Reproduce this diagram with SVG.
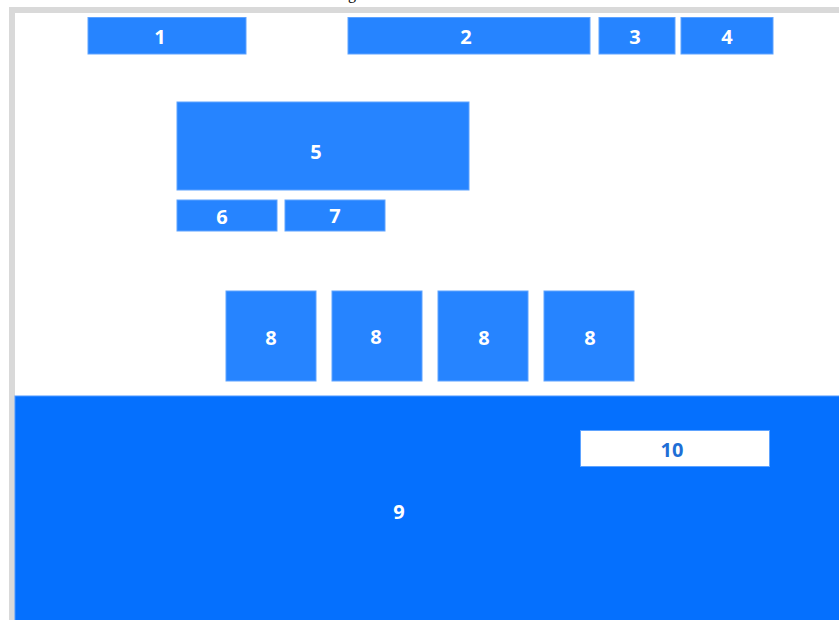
<svg xmlns="http://www.w3.org/2000/svg" width="839" height="620" viewBox="0 0 839 620">
<style>
.b{fill:#2684ff;stroke:#5ea3ff;stroke-width:1}
.t{font-family:"Open Sans","Noto Sans",sans-serif;font-weight:700;font-size:20px;fill:#ffffff;text-anchor:middle;dominant-baseline:central}
</style>
<rect x="0" y="0" width="839" height="620" fill="#ffffff"/>
<text x="348" y="-1" font-family="Liberation Serif,serif" font-size="16" fill="#000">g</text>
<rect x="12" y="10" width="840" height="620" fill="none" stroke="#d9d9d9" stroke-width="6"/>
<g id="n1"><rect class="b" x="88" y="17.5" width="158" height="36.5"/><text class="t" x="160" y="36">1</text></g>
<g id="n2"><rect class="b" x="348" y="17.5" width="242" height="36.5"/><text class="t" x="466" y="36">2</text></g>
<g id="n3"><rect class="b" x="599" y="17.5" width="76" height="36.5"/><text class="t" x="635" y="36">3</text></g>
<g id="n4"><rect class="b" x="681" y="17.5" width="92" height="36.5"/><text class="t" x="727" y="36">4</text></g>
<g id="n5"><rect class="b" x="177" y="102" width="292" height="88"/><text class="t" x="316" y="151">5</text></g>
<g id="n6"><rect class="b" x="177" y="200" width="100" height="31"/><text class="t" x="222" y="216">6</text></g>
<g id="n7"><rect class="b" x="285" y="200" width="100" height="31"/><text class="t" x="335" y="215">7</text></g>
<g id="n8a"><rect class="b" x="226" y="291" width="90" height="90"/><text class="t" x="271" y="337">8</text></g>
<g id="n8b"><rect class="b" x="332" y="291" width="90" height="90"/><text class="t" x="376" y="336">8</text></g>
<g id="n8c"><rect class="b" x="438" y="291" width="90" height="90"/><text class="t" x="484" y="337">8</text></g>
<g id="n8d"><rect class="b" x="544" y="291" width="90" height="90"/><text class="t" x="590" y="337">8</text></g>
<g id="n9"><rect x="15" y="396" width="830" height="230" fill="#0570fe" stroke="#4f98ff" stroke-width="1"/><text class="t" x="399" y="511">9</text></g>
<g id="n10"><rect x="580.5" y="430.5" width="189" height="36" fill="#ffffff" stroke="#5ea3ff" stroke-width="1"/><text class="t" x="672" y="449" style="fill:#1f6fd6">10</text></g>
<g id="connectors"></g>
</svg>
